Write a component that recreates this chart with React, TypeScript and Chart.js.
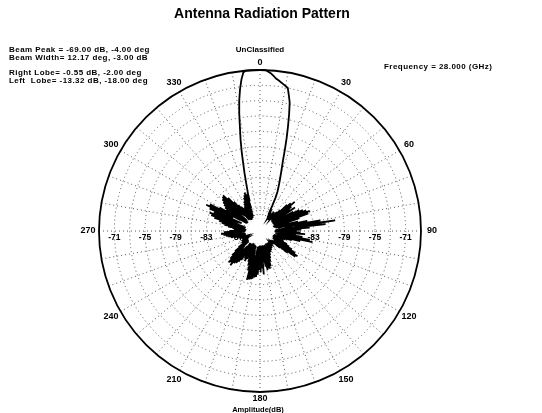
import { useEffect, useRef } from "react";
import { Chart, registerables } from "chart.js";

Chart.register(...registerables);

// Measured amplitude (dB) at every degree, clockwise from boresight (0 deg at top).
const ampQ1 = [
  -69.0, -69.0, -69.0, -69.2, -69.4, -69.7, -70.0, -70.2, -70.4, -70.6,
  -70.8, -71.0, -71.9, -72.8, -74.3, -75.9, -77.4, -78.9, -80.3, -81.2,
  -82.0, -82.7, -83.3, -83.9, -84.4, -85.2, -86.4, -87.6, -86.8, -88.0,
  -87.2, -88.1, -87.9, -88.2, -87.4, -88.0, -86.9, -88.1, -87.3, -88.2,
  -87.8, -88.0, -86.7, -87.9, -86.2, -87.8, -85.1, -87.9, -84.6, -88.0,
  -84.1, -87.6, -84.8, -88.1, -85.2, -87.7, -84.5, -88.0, -86.3, -87.9,
  -85.0, -88.1, -84.2, -87.8, -83.8, -88.0, -83.4, -87.5, -83.0, -87.9,
  -83.3, -88.2, -84.6, -87.8, -86.4, -88.1, -84.9, -87.9, -83.7, -87.6,
  -82.0, -86.8, -80.1, -85.5, -81.4, -87.8, -83.5, -88.0, -84.6, -87.7,
];
const ampQ2 = [
  -85.2, -88.1, -84.7, -87.9, -84.1, -87.6, -85.3, -88.0, -84.4, -87.8,
  -83.4, -86.9, -83.0, -87.7, -84.6, -88.1, -85.7, -87.9, -86.5, -88.2,
  -87.1, -88.0, -87.4, -88.2, -86.6, -88.0, -86.1, -87.8, -85.7, -88.1,
  -85.2, -87.9, -84.6, -87.6, -84.1, -87.4, -84.3, -87.9, -85.4, -88.1,
  -86.6, -88.0, -87.5, -88.2, -87.7, -88.1, -88.0, -87.6, -88.2, -87.9,
  -88.1, -87.8, -88.2, -87.5, -88.0, -87.3, -88.1, -87.6, -88.2, -87.1,
  -88.0, -87.4, -88.1, -86.9, -88.0, -87.2, -88.2, -86.6, -87.9, -86.2,
  -88.0, -85.8, -87.9, -85.2, -88.1, -84.9, -87.6, -85.0, -88.0, -84.8,
  -87.7, -85.3, -88.1, -85.9, -87.8, -84.3, -88.0, -85.1, -87.9, -84.6,
];
const ampQ3 = [
  -88.1, -84.9, -87.7, -84.3, -88.0, -84.0, -87.5, -83.9, -87.9, -83.7,
  -86.8, -83.6, -86.2, -83.5, -87.4, -83.4, -88.0, -84.6, -87.8, -85.3,
  -88.1, -85.7, -87.9, -86.2, -88.0, -86.0, -88.2, -85.6, -87.8, -85.9,
  -88.1, -86.4, -87.9, -85.5, -88.0, -85.1, -87.7, -84.8, -88.0, -84.6,
  -87.4, -84.1, -86.9, -84.4, -86.5, -84.2, -87.2, -84.7, -88.0, -85.2,
  -87.9, -85.8, -88.1, -86.5, -87.8, -87.2, -88.0, -87.5, -88.2, -87.8,
  -88.0, -87.3, -88.1, -87.9, -88.2, -87.6, -88.0, -88.2, -87.4, -88.1,
  -87.8, -88.0, -87.2, -88.1, -86.9, -88.0, -86.5, -87.9, -86.1, -88.1,
  -85.8, -87.8, -85.5, -88.0, -85.2, -87.6, -84.9, -87.9, -85.3, -88.1,
];
const ampQ4 = [
  -86.0, -87.8, -86.6, -88.0, -86.9, -88.2, -86.4, -87.9, -85.8, -88.0,
  -85.3, -87.7, -84.9, -88.1, -84.5, -87.8, -83.8, -87.2, -83.3, -86.6,
  -83.0, -86.9, -83.5, -87.4, -82.8, -86.1, -82.2, -85.8, -82.6, -87.1,
  -83.9, -88.0, -84.8, -87.7, -84.5, -88.1, -84.2, -87.5, -83.9, -87.8,
  -83.6, -86.9, -83.4, -86.4, -83.3, -87.2, -84.0, -88.0, -84.9, -87.8,
  -85.6, -88.1, -86.0, -87.9, -86.3, -88.2, -86.7, -88.0, -86.2, -87.8,
  -85.9, -88.1, -85.6, -87.6, -85.2, -87.9, -84.9, -87.4, -84.6, -86.8,
  -84.9, -85.9, -85.0, -84.3, -83.4, -82.2, -81.0, -79.4, -77.8, -76.3,
  -74.4, -72.7, -71.3, -70.1, -69.2, -69.0, -69.0, -69.0, -69.0, -69.0,
];

// Azimuth categories, one per degree.
const azimuths = Array.from({ length: 360 }, (_, i) => i);
const azimuthTicks = [0, 30, 60, 90, 120, 150, 180, 210, 240, 270, 300, 330];

// Amplitude rings (dB) and the ones that carry a label.
const ampMin = -90;
const ampMax = -69;
const ringValues = [-87, -85, -83, -81, -79, -77, -75, -73, -71];
const ringLabels = [-71, -75, -79, -83, -87];

const titleText = "Antenna Radiation Pattern";
const infoLines = [
  "Beam Peak = -69.00 dB, -4.00 deg",
  "Beam Width= 12.17 deg, -3.00 dB",
  "",
  "Right Lobe= -0.55 dB, -2.00 deg",
  "Left  Lobe= -13.32 dB, -18.00 deg",
];
const freqText = "Frequency = 28.000 (GHz)";
const classText = "UnClassified";
const axisText = "Amplitude(dB)";

const FONT = "'Liberation Sans', Arial, sans-serif";

const decorPlugin = {
  id: "patternDecor",
  beforeDatasetsDraw(chart: any) {
    const r = chart.scales.r;
    const ctx = chart.ctx;
    const cx = r.xCenter;
    const cy = r.yCenter;
    ctx.save();
    // outer amplitude circle
    ctx.beginPath();
    ctx.arc(cx, cy, r.getDistanceFromCenterForValue(ampMax), 0, Math.PI * 2);
    ctx.strokeStyle = "#000";
    ctx.lineWidth = 1.8;
    ctx.stroke();
    // blank core below the noise floor
    ctx.beginPath();
    ctx.arc(cx, cy, r.getDistanceFromCenterForValue(-88.3), 0, Math.PI * 2);
    ctx.fillStyle = "#fff";
    ctx.fill();
    // ring labels along the 90/270 axis
    ctx.fillStyle = "#000";
    ctx.font = `bold 8.5px ${FONT}`;
    ctx.textAlign = "center";
    ctx.textBaseline = "middle";
    ringLabels.forEach((v) => {
      const d = r.getDistanceFromCenterForValue(v);
      ctx.fillText(String(v), cx - d, cy + 7);
      ctx.fillText(String(v), cx + d, cy + 7);
    });
    ctx.restore();
  },
  afterDraw(chart: any) {
    const r = chart.scales.r;
    const ctx = chart.ctx;
    const outer = r.getDistanceFromCenterForValue(ampMax);
    ctx.save();
    ctx.fillStyle = "#000";
    ctx.textAlign = "center";
    ctx.textBaseline = "middle";
    ctx.font = `bold 9px ${FONT}`;
    azimuthTicks.forEach((a) => {
      const off = a === 0 || a === 180 ? 7 : 11;
      const p = r.getPointPosition(a, outer + off);
      ctx.fillText(String(a), p.x, p.y);
    });
    ctx.font = `bold 8px ${FONT}`;
    ctx.fillText(classText, r.xCenter, r.yCenter - outer - 20);
    ctx.font = `bold 7.5px ${FONT}`;
    ctx.fillText(axisText, r.xCenter - 2, r.yCenter + outer + 18);
    ctx.font = `bold 14px ${FONT}`;
    ctx.fillText(titleText, r.xCenter + 2, 14);
    ctx.font = `bold 8px ${FONT}`;
    ctx.textAlign = "left";
    if ("letterSpacing" in ctx) ctx.letterSpacing = "0.45px";
    infoLines.forEach((line, i) => {
      if (line) ctx.fillText(line, 9, 49.5 + i * 7.9);
    });
    ctx.fillText(freqText, 384, 67);
    ctx.restore();
  },
};

export default function App() {
  const canvasRef = useRef<HTMLCanvasElement | null>(null);

  useEffect(() => {
    if (!canvasRef.current) return;
    const amplitude = [...ampQ1, ...ampQ2, ...ampQ3, ...ampQ4];
    const chart = new Chart(canvasRef.current, {
      type: "radar",
      data: {
        labels: azimuths,
        datasets: [
          {
            data: amplitude,
            borderColor: "#000",
            borderWidth: 1.8,
            pointRadius: 0,
            fill: false,
            tension: 0,
          },
        ],
      },
      options: {
        responsive: false,
        animation: false,
        layout: { padding: { left: 99, top: 70, right: 121, bottom: 21 } },
        plugins: {
          legend: { display: false },
          tooltip: { enabled: false },
        },
        scales: {
          r: {
            min: ampMin,
            max: ampMax,
            startAngle: 0,
            afterBuildTicks: (scale: any) => {
              scale.ticks = ringValues.map((v) => ({ value: v }));
            },
            ticks: { display: false },
            pointLabels: { display: false },
            grid: { circular: true, color: "#555", lineWidth: 1 },
            border: { dash: [1, 3] },
            angleLines: {
              display: true,
              color: "#555",
              lineWidth: (c: any) => (c.index % 10 === 0 ? 1 : 0),
              borderDash: [1, 3],
            },
          },
        },
      },
      plugins: [decorPlugin],
    } as any);
    return () => chart.destroy();
  }, []);

  return (
    <div style={{ position: "fixed", left: 0, top: 0, width: 542, height: 413, background: "#fff" }}>
      <canvas ref={canvasRef} width={542} height={413} style={{ display: "block" }} />
    </div>
  );
}
